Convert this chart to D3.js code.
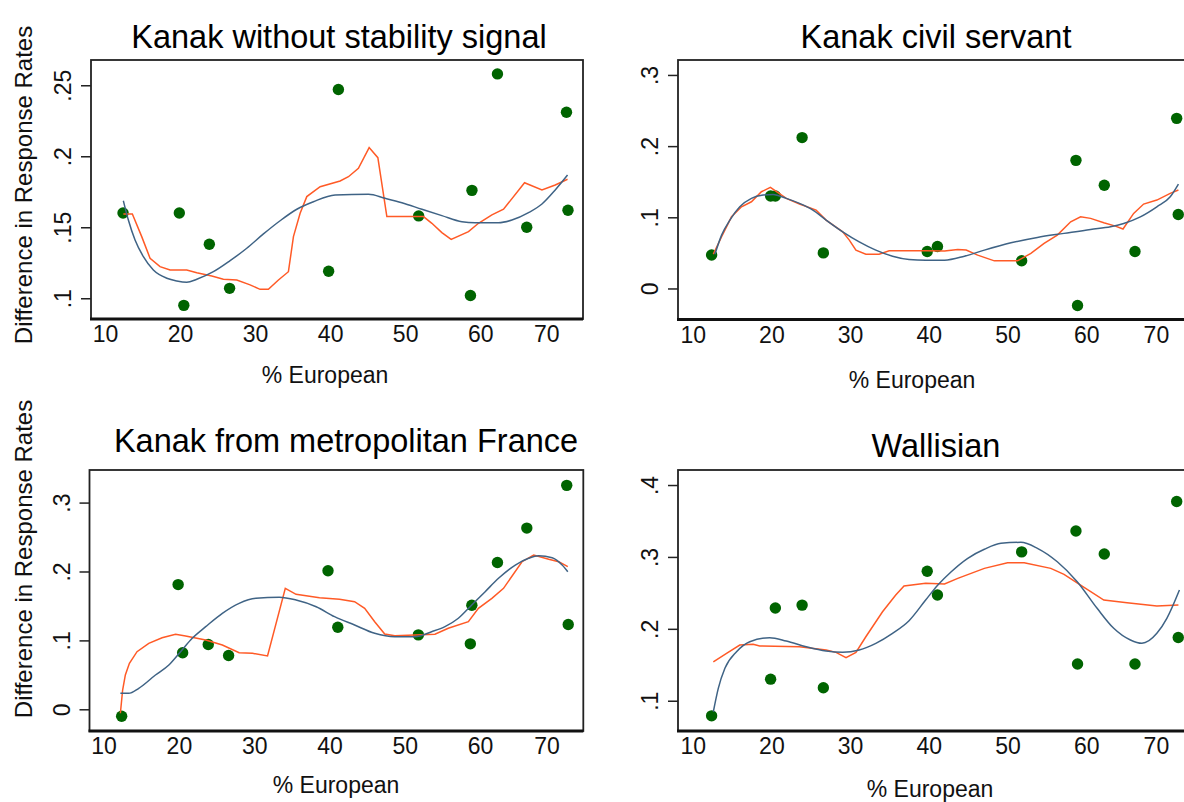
<!DOCTYPE html>
<html>
<head>
<meta charset="utf-8">
<script src="https://cdn.jsdelivr.net/npm/d3@7"></script>
<style>
  body { margin: 0; background: #fff; }
  svg text { font-family: "Liberation Sans", Arial, sans-serif; fill: #111; }
</style>
</head>
<body>
<svg width="1184" height="802"></svg>
<script>
// % European of each commune (same for every panel)
const pctEuropean = [12.4, 19.9, 20.5, 23.9, 26.6, 39.8, 41.1, 51.8, 58.7, 58.9, 62.3, 66.2, 71.5, 71.7]

// Difference in response rates, one array per profile
const diffNoSignal  = [0.160, 0.160, 0.095, 0.138, 0.107, 0.119, 0.247, 0.158, 0.102, 0.176, 0.258, 0.150, 0.231, 0.162]
const diffCivil     = [0.047, 0.130, 0.130, 0.212, 0.050, 0.052, 0.059, 0.039, 0.180, -0.024, 0.145, 0.052, 0.239, 0.104]
const diffMetro     = [-0.010, 0.181, 0.082, 0.094, 0.078, 0.201, 0.119, 0.108, 0.095, 0.151, 0.213, 0.263, 0.325, 0.123]
const diffWallisian = [0.079, 0.130, 0.229, 0.233, 0.118, 0.280, 0.247, 0.307, 0.336, 0.151, 0.304, 0.151, 0.377, 0.188]

// lowess curves (orange) [x, y]
const lowessNoSignal = [[12.44,.1594],[13.64,.1594],[14.89,.1434],[16.0,.1282],[17.33,.1223],[18.67,.1199],[20.89,.1199],[22.23,.118],[24.23,.1157],[25.77,.1134],[27.56,.1129],[29.33,.1094],[30.67,.1063],[31.77,.1063],[33.11,.1129],[34.44,.1187],[35.11,.1434],[36.0,.1599],[36.89,.1716],[38.67,.1786],[41.33,.1826],[42.44,.1856],[43.77,.1915],[45.2,.2061],[46.36,.199],[47.56,.1575],[52.44,.1575],[53.56,.1528],[54.89,.1462],[56.13,.1415],[58.44,.1469],[59.77,.1528],[61.56,.1587],[63.11,.1627],[65.91,.1814],[68.23,.1763],[70.0,.1798],[71.64,.1838]]
const lowessCivil = [[12.62,.0482],[13.67,.0726],[14.93,.1007],[16.2,.1148],[17.46,.1218],[18.73,.1359],[19.87,.142],[20.84,.1345],[21.89,.1266],[23.57,.1186],[25.68,.1101],[26.95,.0961],[29.06,.0796],[29.9,.0679],[30.74,.0539],[32.0,.0482],[33.69,.0482],[34.96,.0529],[39.6,.0529],[42.0,.0525],[43.68,.0549],[44.75,.0539],[46.21,.0468],[48.33,.0388],[51.27,.0388],[52.97,.0492],[54.65,.0633],[56.33,.075],[58.03,.0937],[59.29,.1007],[60.56,.0985],[62.24,.0923],[63.72,.0876],[64.68,.0835],[66.03,.1055],[67.3,.1186],[68.98,.1242],[70.68,.1336],[71.72,.1383]]
const lowessMetro = [[12.23,-.0058],[12.53,.028],[12.89,.0498],[13.43,.0668],[14.44,.0836],[16.0,.0958],[17.77,.1039],[19.56,.1089],[20.89,.1064],[23.56,.1006],[25.77,.0933],[28.0,.0821],[29.77,.0813],[31.77,.0774],[34.13,.1756],[35.56,.1669],[38.67,.162],[41.33,.1597],[43.33,.1562],[44.67,.1466],[46.0,.1271],[47.33,.1093],[48.67,.1068],[54.0,.1089],[55.77,.1176],[58.44,.1271],[59.77,.1466],[61.56,.1611],[63.11,.1756],[65.56,.2142],[67.11,.2239],[69.11,.2177],[70.44,.2142],[71.64,.207]]
const lowessWallisian = [[12.62,.1542],[14.3,.1659],[15.98,.1775],[17.68,.1784],[18.51,.1761],[23.57,.1751],[26.95,.1705],[28.21,.1673],[29.48,.1598],[30.74,.1673],[32.0,.189],[34.12,.2238],[35.8,.247],[36.85,.2595],[39.6,.2633],[42.0,.2623],[43.68,.2702],[47.06,.2841],[50.01,.2919],[52.12,.2919],[55.5,.2841],[57.18,.2758],[59.29,.2609],[62.24,.24],[65.19,.2363],[68.98,.2317],[71.72,.2331]]

// polynomial fits (blue) [x, y]
const fitNoSignal = [[12.44,.1687],[13.11,.1551],[14.0,.141],[15.11,.1293],[16.44,.1199],[18.23,.1141],[19.56,.1122],[20.89,.1113],[22.23,.1134],[24.44,.1187],[26.67,.1265],[28.89,.1352],[31.11,.1453],[33.33,.1546],[35.56,.1627],[37.77,.168],[40.67,.1727],[45.11,.1732],[47.33,.1704],[49.56,.1673],[52.23,.1627],[54.89,.1582],[57.56,.1539],[59.33,.1532],[62.44,.1532],[64.23,.1551],[66.44,.1603],[68.23,.1664],[70.0,.1763],[71.64,.1868]]
const fitCivil = [[12.82,.0482],[13.67,.075],[14.72,.0961],[15.98,.1148],[17.46,.1266],[18.94,.1312],[20.21,.1322],[21.89,.1266],[23.57,.1195],[25.27,.1101],[26.95,.0961],[29.06,.0796],[31.16,.0655],[33.27,.0539],[35.39,.0454],[37.49,.0408],[39.6,.0398],[42.0,.0398],[44.53,.0454],[47.06,.0539],[50.44,.0641],[53.8,.0717],[57.18,.0774],[60.56,.083],[63.09,.0866],[64.77,.0914],[66.88,.1007],[68.98,.1148],[70.68,.1288],[71.72,.1467]]
const fitMetro = [[12.23,.0232],[13.33,.0232],[14.67,.0305],[16.89,.0498],[18.67,.0643],[20.23,.0836],[21.77,.103],[23.56,.1199],[25.77,.1393],[28.0,.1538],[30.23,.1611],[33.33,.1626],[35.56,.1586],[38.23,.1489],[40.67,.1344],[43.33,.1224],[46.0,.1103],[48.67,.1054],[51.33,.1054],[53.56,.1126],[55.33,.1199],[57.11,.1321],[58.89,.1514],[60.67,.1707],[62.44,.1901],[64.67,.2094],[66.44,.2192],[67.77,.2229],[69.56,.22],[70.89,.2094],[71.64,.1997]]
const fitWallisian = [[12.62,.0847],[13.25,.1172],[14.09,.1451],[15.57,.1682],[17.25,.1821],[19.78,.1876],[21.89,.183],[24.42,.1751],[26.95,.1691],[29.06,.1673],[31.16,.1705],[33.27,.1798],[35.39,.1937],[37.49,.2113],[39.6,.24],[41.15,.2609],[42.85,.2794],[44.95,.2981],[47.06,.3106],[49.17,.3189],[51.7,.3203],[53.8,.312],[56.33,.2933],[58.86,.2655],[61.39,.2285],[63.5,.2007],[65.62,.1844],[67.08,.1798],[68.98,.1937],[70.25,.2146],[71.85,.254]]

const xTicks = [10, 20, 30, 40, 50, 60, 70]
const titles = ['Kanak without stability signal', 'Kanak civil servant', 'Kanak from metropolitan France', 'Wallisian']

let panels = [
    { title: titles[0], y: diffNoSignal, lowess: lowessNoSignal, fit: fitNoSignal,
      box: [91, 60, 583, 319], yDom: [0.0854, 0.2678], yTicks: [0.1, 0.15, 0.2, 0.25],
      titleX: 339, titleY: 48, xTitleX: 325, xTitleY: 383, yTitleY: 185 },
    { title: titles[1], y: diffCivil, lowess: lowessCivil, fit: fitCivil,
      box: [678, 60, 1194, 319.5], yDom: [-0.0436, 0.321], yTicks: [0, 0.1, 0.2, 0.3],
      titleX: 936, titleY: 48, xTitleX: 912, xTitleY: 388 },
    { title: titles[2], y: diffMetro, lowess: lowessMetro, fit: fitMetro,
      box: [89.5, 470, 583.3, 731], yDom: [-0.0315, 0.3473], yTicks: [0, 0.1, 0.2, 0.3],
      titleX: 346, titleY: 452, xTitleX: 336, xTitleY: 793, yTitleY: 559 },
    { title: titles[3], y: diffWallisian, lowess: lowessWallisian, fit: fitWallisian,
      box: [678, 470, 1194, 731], yDom: [0.0579, 0.4209], yTicks: [0.1, 0.2, 0.3, 0.4],
      titleX: 936, titleY: 457, xTitleX: 930, xTitleY: 797 }
]

let svg = d3.select('svg')
let fmt = d => d === 0 ? '0' : d3.format('.2~f')(d).replace(/^0/, '')

panels.forEach(p => {
    let [x0, y0, x1, y1] = p.box
    let x = d3.scaleLinear().domain([8.13, 73.7]).range([x0, x1])
    let y = d3.scaleLinear().domain(p.yDom).range([y1, y0])

    let g = svg.append('g')

    // title
    g.append('text')
        .attr('x', p.titleX).attr('y', p.titleY)
        .attr('text-anchor', 'middle')
        .style('font-size', '32.5px')
        .style('fill', '#000')
        .text(p.title)

    // points
    g.selectAll('circle')
        .data(pctEuropean.map((v, i) => [v, p.y[i]]))
        .join('circle')
        .attr('cx', d => x(d[0]))
        .attr('cy', d => y(d[1]))
        .attr('r', 5.7)
        .attr('fill', '#006400')

    // lowess and fit
    let line = d3.line().x(d => x(d[0])).y(d => y(d[1]))
    g.append('path')
        .attr('d', line(p.lowess))
        .attr('fill', 'none')
        .attr('stroke', '#ff5a26')
        .attr('stroke-width', 1.5)
    g.append('path')
        .attr('d', line.curve(d3.curveMonotoneX)(p.fit))
        .attr('fill', 'none')
        .attr('stroke', '#3f6385')
        .attr('stroke-width', 1.5)

    // box
    g.append('rect')
        .attr('x', x0).attr('y', y0)
        .attr('width', x1 - x0).attr('height', y1 - y0)
        .attr('fill', 'none')
        .attr('stroke', '#222')
        .attr('stroke-width', 1.8)
    g.append('line')
        .attr('x1', x0 - 1).attr('x2', x1)
        .attr('y1', y1).attr('y2', y1)
        .attr('stroke', '#111')
        .attr('stroke-width', 3)

    // y axis
    let ya = g.append('g')
        .attr('transform', `translate(${x0},0)`)
        .call(d3.axisLeft(y).tickValues(p.yTicks).tickSize(10).tickFormat(fmt))
    ya.select('.domain').remove()
    ya.selectAll('line').attr('stroke', '#222').attr('stroke-width', 1.5)
    ya.selectAll('text')
        .attr('transform', 'rotate(-90)')
        .attr('x', 0).attr('y', -20).attr('dy', 0)
        .attr('text-anchor', 'middle')
        .style('font-size', '23px')
        .style('font-family', '"Liberation Sans", Arial, sans-serif')
        .style('fill', '#111')

    // x axis
    let xa = g.append('g')
        .attr('transform', `translate(0,${y1})`)
        .call(d3.axisBottom(x).tickValues(xTicks).tickSize(0).tickPadding(7))
    xa.select('.domain').remove()
    xa.selectAll('text')
        .attr('dx', d => d === 70 ? -9 : 0)
        .style('font-size', '23px')
        .style('font-family', '"Liberation Sans", Arial, sans-serif')
        .style('fill', '#111')

    g.append('text')
        .attr('x', p.xTitleX).attr('y', p.xTitleY)
        .attr('text-anchor', 'middle')
        .style('font-size', '23px')
        .text('% European')

    if (p.yTitleY) {
        g.append('text')
            .attr('transform', `translate(32,${p.yTitleY}) rotate(-90)`)
            .attr('text-anchor', 'middle')
            .style('font-size', '24px')
            .text('Difference in Response Rates')
    }
})
</script>
</body>
</html>
